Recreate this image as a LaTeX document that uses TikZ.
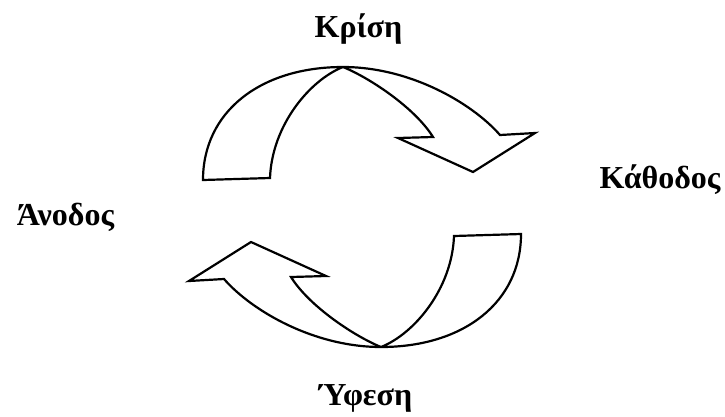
\documentclass[tikz,border=0pt]{standalone}
\usepackage{fontspec}
\setmainfont{Liberation Serif}
\newcommand\halfcyclearrow{%
  \path[cyclearrow] (203,180) .. controls (203,112) and (260,67) .. (343,67)
    .. controls (410,67) and (472,103) .. (500,135)
    -- (535,133) -- (473,172) -- (398,138) -- (433,137)
    .. controls (415,108) and (370,78) .. (343,67)
    .. controls (310,80) and (272,125) .. (270,178) -- cycle;}
\begin{document}
\begin{tikzpicture}[x=1pt,y=-1pt,
  lbl/.style={font=\fontsize{32}{36}\selectfont\bfseries, inner sep=0pt, anchor=base},
  cyclearrow/.style={draw=black, line width=2.2pt, fill=white, line join=miter}]
\useasboundingbox (0,0) rectangle (725,416);
\fill[white] (0,0) rectangle (725,416);
\halfcyclearrow
\begin{scope}[rotate around={180:(362,207)}]
\halfcyclearrow
\end{scope}
\node[lbl] (krisi) at (358.5,37) {Κρίση};
\node[lbl] (kathodos) at (660,188) {Κάθοδος};
\node[lbl] (anodos) at (65.5,225) {Άνοδος};
\node[lbl] (yfesi) at (365.5,405) {Ύφεση};
\end{tikzpicture}
\end{document}
